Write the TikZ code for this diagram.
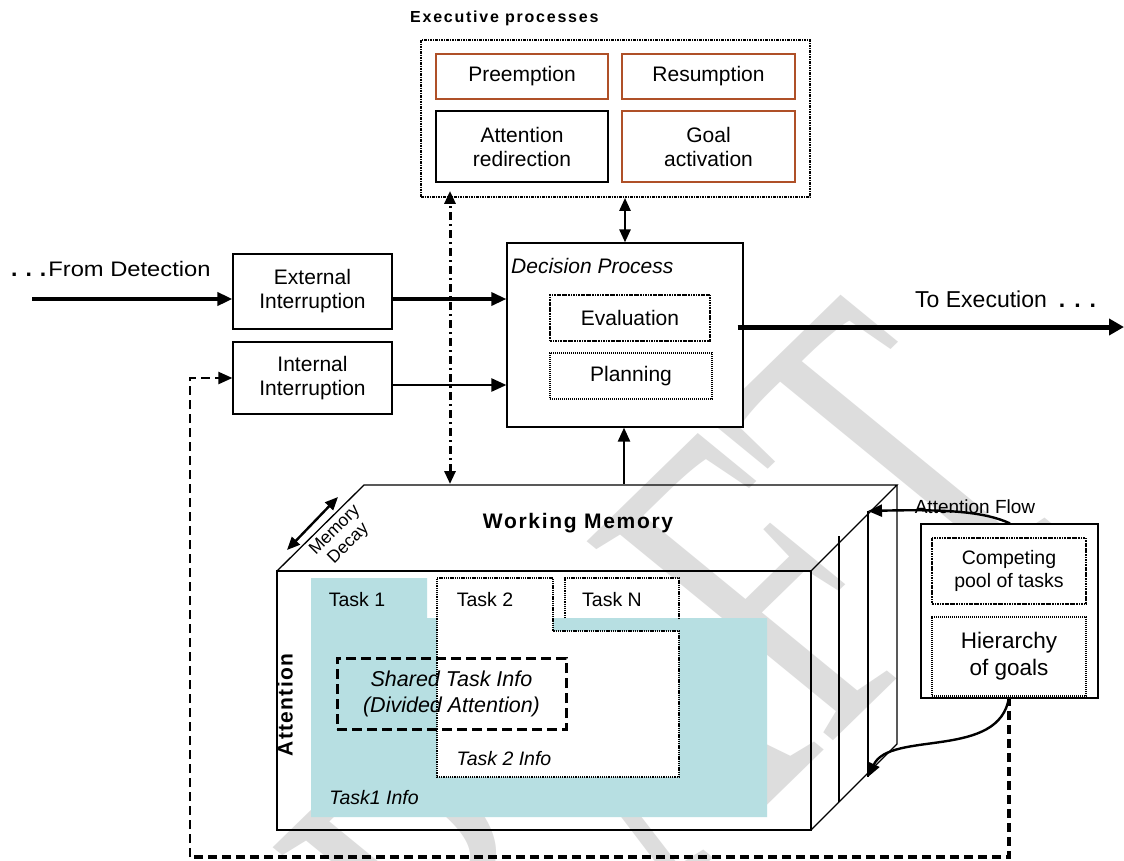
\documentclass[tikz,border=0pt]{standalone}
\usepackage{fontspec}
\setmainfont{Liberation Sans}
\newfontfamily\wmfont{Liberation Serif}
\usetikzlibrary{arrows.meta,calc}
\definecolor{taskblue}{RGB}{183,223,226}
\definecolor{rust}{RGB}{175,80,40}
\definecolor{wmgray}{RGB}{221,221,221}
\newcommand\fsz[2]{\fontsize{#1}{#2}\selectfont}

\begin{document}
\begin{tikzpicture}[x=1pt,y=-1pt,
  box/.style={draw, line width=1.2pt, fill=white, inner sep=0pt, align=center, font=\fsz{21}{24}},
  rustbox/.style={box, draw=rust},
  dotbox/.style={draw, line width=2.6pt, dash pattern=on 2.4pt off 0.8pt on 0.8pt off 0.8pt,
                 fill=white, inner sep=0pt, align=center, font=\fsz{21}{24}},
  lightdot/.style={line width=2pt, dash pattern=on 1.2pt off 0.8pt},
  execbox/.style={draw, line width=1.8pt, dash pattern=on 2.5pt off 1pt on 1pt off 1pt, fill=white, inner sep=0pt},
  taskdot/.style={line width=1.8pt, dash pattern=on 1.3pt off 0.9pt},
  lbl/.style={inner sep=0pt, align=center},
  cube/.style={line width=1.3pt, line join=miter},
  tri/.style={-{Triangle[length=14pt,width=12pt]}},
  bigtri/.style={-{Triangle[length=15pt,width=13pt]}},
  dtri/.style={{Triangle[length=13pt,width=11pt]}-{Triangle[length=13pt,width=11pt]}},
  ddash/.style={line width=3pt, dash pattern=on 8pt off 4pt on 2pt off 4pt},
  fbdash/.style={dash pattern=on 9pt off 5pt}
]
\useasboundingbox (0,0) rectangle (1124,860);
\fill[white] (0,0) rectangle (1124,860);

% faint watermark behind everything
\begin{scope}[shift={(843,289)}, xscale=1.12]
  \node[inner sep=0pt, transform shape, rotate=47.5, anchor=north east, text=wmgray,
        font=\wmfont\fsz{453}{453}\addfontfeature{FakeStretch=0.66}] (wm) at (0,0) {DRAFT};
\end{scope}

% executive processes
\node[lbl, anchor=west, font=\bfseries\fsz{16}{18}\addfontfeature{LetterSpace=11}] (exectitle) at (410,18) {Executive processes};
\node[execbox, minimum width=389pt, minimum height=157pt] (exec) at (615.5,118.5) {};
\node[rustbox, minimum width=172pt, minimum height=45pt] (pre) at (522,76.5) {Preemption};
\node[rustbox, minimum width=173pt, minimum height=45pt] (res) at (708.5,76.5) {Resumption};
\node[box, minimum width=172pt, minimum height=71pt] (attn) at (522,146.5) {Attention\\redirection};
\node[rustbox, minimum width=173pt, minimum height=71pt] (goal) at (708.5,146.5) {Goal\\activation};

% decision process
\node[box, minimum width=236pt, minimum height=184pt] (dec) at (625,335) {};
\node[lbl, anchor=west, font=\itshape\fsz{21}{24}] (dectitle) at (511,266) {Decision Process};
\node[dotbox, minimum width=160pt, minimum height=46pt] (eval) at (630,318) {Evaluation};
\node[dotbox, lightdot, minimum width=162pt, minimum height=46pt] (plan) at (631,376) {Planning};

% interruptions
\node[box, minimum width=159pt, minimum height=75pt] (ext) at (312.5,291.5) {External\\Interruption};
\node[box, minimum width=159pt, minimum height=72pt] (intl) at (312.5,378) {Internal\\Interruption};

\coordinate (src) at (32,299);
\node[lbl, anchor=west, font=\fsz{21}{24}] (fromdet) at (11,269)
  {{\bfseries\fsz{23}{24}.\hspace{8pt}.\hspace{8pt}.}\hspace{2pt}{\addfontfeature{FakeStretch=1.13}From Detection}};
\draw[line width=4pt, bigtri] (src) -- (ext.west |- src);

\coordinate (e1) at ($(ext.east)+(0,7.5)$);
\draw[line width=3.3pt, bigtri] (e1) -- (e1 -| dec.west);
\coordinate (i1) at ($(intl.east)+(0,7)$);
\draw[line width=2.4pt, bigtri] (i1) -- (i1 -| dec.west);

\coordinate (x1) at ($(dec.east)+(-6,-8)$);
\coordinate (exend) at (1124,327);
\draw[line width=5pt, -{Triangle[length=15pt,width=16pt]}] (x1) -- (exend);
\node[lbl, anchor=west, font=\fsz{23}{24}] (toexec) at (915,299) {To Execution\hspace{12pt}{\bfseries.\hspace{9pt}.\hspace{9pt}.}};

\draw[line width=2.6pt, dtri] (dec.north) -- (dec.north |- exec.south);

% working memory block
\coordinate (fl) at (277,571);
\coordinate (fr) at (811,571);
\coordinate (frb) at (811,830);
\coordinate (bl) at (364,485);
\coordinate (br) at (897,485);
\coordinate (brb) at (897,744);
\coordinate (lay1t) at (839,536);
\coordinate (lay1b) at (839,802);
\coordinate (lay2t) at (868,511);
\coordinate (lay2b) at (868,777);

\fill[taskblue] (311,578) -- (427,578) -- (427,618) -- (767,618) -- (767,817) -- (311,817) -- cycle;
\filldraw[fill=white, taskdot] (437,578) -- (553,578) -- (553,631) -- (679,631) -- (679,777) -- (437,777) -- cycle;
\fill[white] (565,578) rectangle (679,618);
\draw[taskdot] (565,618) -- (565,578) -- (679,578) -- (679,618);

\draw[cube] (fl) rectangle (frb);
\draw[cube] (fl) -- (bl) -- (br) -- (fr);
\draw[cube] (br) -- (brb) -- (frb);
\draw[cube] (lay1t) -- (lay1b);
\draw[cube] (lay2t) -- (lay2b);

\node[lbl, font=\bfseries\fsz{21}{24}\addfontfeature{LetterSpace=8}] (wmlabel) at (578,523) {Working Memory};
\coordinate (md1) at (287,550);
\coordinate (md2) at (338,497);
\draw[line width=2.4pt, {Triangle[length=13pt,width=11pt]}-{Triangle[length=13pt,width=11pt]}] (md1) -- (md2);
\node[lbl, rotate=45, font=\fsz{17.5}{19}] (mdlabel) at (342,537) {Memory\\Decay};
\node[lbl, rotate=90, font=\bfseries\fsz{21}{24}\addfontfeature{LetterSpace=6}] (attnlabel) at (285,705) {Attention};

\node[lbl, font=\fsz{19.5}{22}] (t1) at (357,600) {Task 1};
\node[lbl, font=\fsz{19.5}{22}] (t2) at (485,600) {Task 2};
\node[lbl, font=\fsz{19.5}{22}] (tn) at (612,600) {Task N};
\node[lbl, font=\itshape\fsz{19.5}{22}] (t2info) at (504,759) {Task 2 Info};
\node[lbl, font=\itshape\fsz{19.5}{22}] (t1info) at (374,798) {Task1 Info};
\node[draw, line width=3pt, dash pattern=on 10pt off 5pt, minimum width=229pt, minimum height=71pt,
      inner sep=0pt, align=center, font=\itshape\fsz{21.5}{26}] (shared) at (451.5,693.5) {Shared Task Info\\(Divided Attention)};

% working memory <-> decision / executive
\coordinate (wmup) at (624,484);
\draw[line width=2.4pt, tri] (wmup) -- (wmup |- dec.south);
\coordinate (wmdd) at (450,484);
\coordinate (ddtop) at ($(wmdd |- exec.south)+(0,-7)$);
\draw[ddash, dtri] (wmdd) -- (ddtop);

% goals
\node[box, minimum width=177pt, minimum height=174pt] (goals) at (1009.5,611) {};
\node[dotbox, minimum width=154pt, minimum height=66pt, font=\fsz{19.5}{22.5}] (pool) at (1009,571) {Competing\\pool of tasks};
\node[dotbox, lightdot, minimum width=154pt, minimum height=79pt, font=\fsz{22.5}{27}] (hier) at (1009,656.5) {Hierarchy\\of goals};
\node[lbl, font=\fsz{19}{20}] (aflow) at (975,507) {Attention Flow};

\draw[line width=2.4pt, tri] ($(goals.north)+(0.5,0)$) .. controls (985,512) and (950,509) .. (lay2t);
\draw[line width=2.4pt, tri] (hier.south) .. controls (1000,760) and (890,730) .. (lay2b);

% feedback to internal interruption
\coordinate (fbcorner) at (190,857);
\draw[fbdash, line width=3.4pt] (hier.south) |- (fbcorner);
\draw[fbdash, line width=2.2pt, tri] (fbcorner) |- (intl.west);
\end{tikzpicture}
\end{document}
